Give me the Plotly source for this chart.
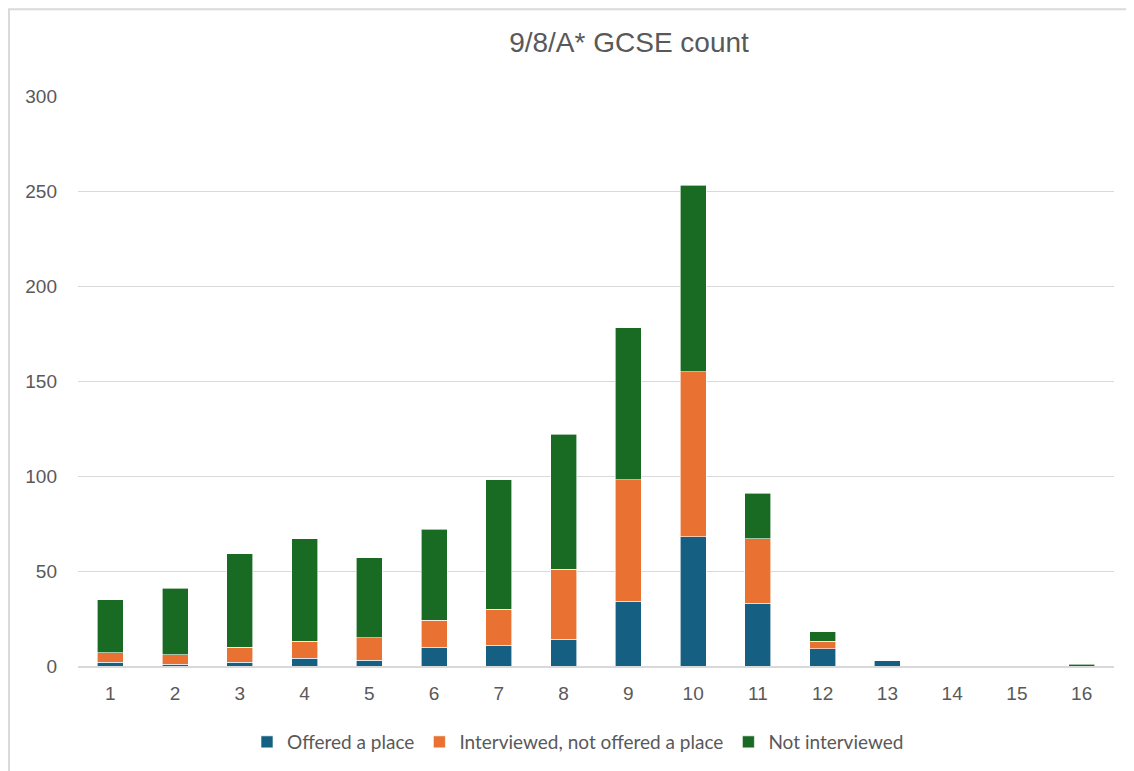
import plotly.graph_objects as go

categories = [str(i) for i in range(1, 17)]
offered = [2, 1, 2, 4, 3, 10, 11, 14, 34, 68, 33, 9, 3, 0, 0, 0]
interviewed = [5, 5, 8, 9, 12, 14, 19, 37, 64, 87, 34, 4, 0, 0, 0, 0]
not_interviewed = [28, 35, 49, 54, 42, 48, 68, 71, 80, 98, 24, 5, 0, 0, 0, 1]

series = [
    ("Offered a place", offered, "#156082"),
    ("Interviewed, not offered a place", interviewed, "#E97132"),
    ("Not interviewed", not_interviewed, "#196B24"),
]

fig = go.Figure()
for name, vals, col in series:
    fig.add_trace(go.Bar(
        x=categories, y=vals, name=name,
        marker=dict(color=col, line=dict(color="white", width=0.6)),
    ))

# page is offset 8px by the body margin; chart frame extends past the window
W, H = 1134, 771
L, T = 70, 88
R = W - 1106
B = H - 658
pw, ph = W - L - R, H - T - B

fig.update_layout(
    width=W, height=H,
    barmode="stack", bargap=0.6,
    paper_bgcolor="white", plot_bgcolor="white",
    margin=dict(l=L, r=R, t=T, b=B),
    font=dict(family="Liberation Sans, Arial, sans-serif", color="#595959", size=19),
    title=dict(text="9/8/A* GCSE count", x=621 / W, xanchor="center",
               y=1 - 34 / H, yanchor="middle",
               font=dict(family="Liberation Sans, Arial, sans-serif", size=28, color="#595959")),
    xaxis=dict(showgrid=False, showline=True, linecolor="#D9D9D9", linewidth=1.5,
               ticks="", ticklabelstandoff=9,
               tickfont=dict(size=19)),
    yaxis=dict(range=[0, 300], dtick=50, showgrid=True, gridcolor="#D9D9D9",
               gridwidth=1, zeroline=False, showline=False, ticks="",
               ticklabelstandoff=20,
               tickfont=dict(size=19)),
    legend=dict(orientation="h", x=(578 - 8 - L) / pw, xanchor="center",
                y=-(734 - 658) / ph, yanchor="middle",
                font=dict(size=19, family="Lato, sans-serif"),
                itemwidth=30, traceorder="normal"),
    showlegend=True,
)

# light grey chart frame at the figure edges
fig.add_shape(type="rect", xref="paper", yref="paper",
              x0=-L / pw + 0.001, x1=1 + R / pw,
              y0=-B / ph, y1=1 + T / ph - 0.002,
              line=dict(color="#D9D9D9", width=2), fillcolor="rgba(0,0,0,0)",
              layer="below")

fig.write_html("out.html")
